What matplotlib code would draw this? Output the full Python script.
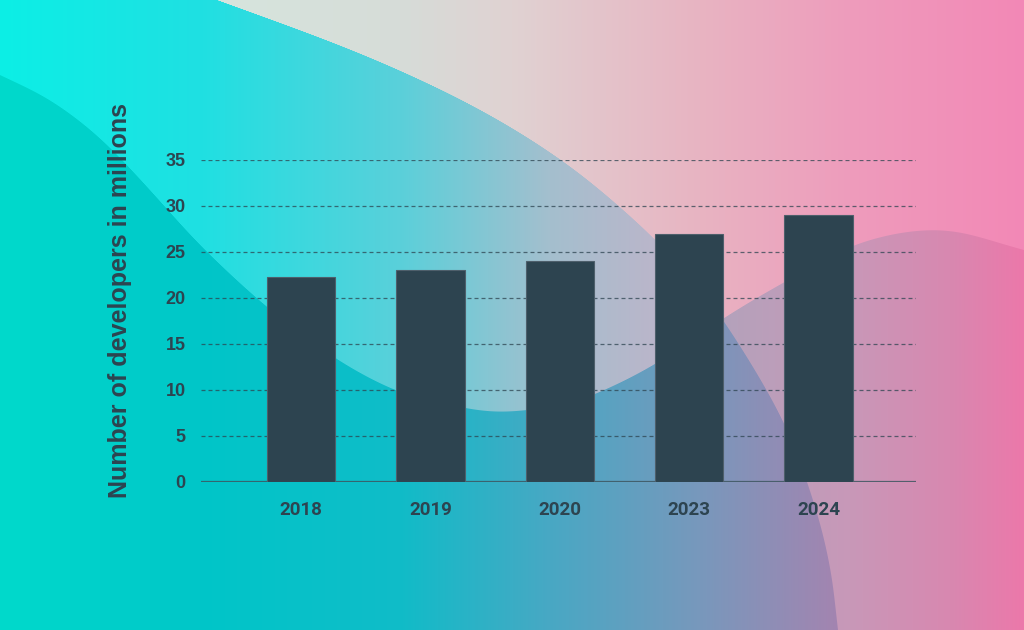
import numpy as np
import matplotlib
matplotlib.use('Agg')
import matplotlib.pyplot as plt
from matplotlib.colors import to_rgb

# ---- data ----
years = ['2018', '2019', '2020', '2023', '2024']
developers = [22.3, 23.0, 24.0, 27.0, 29.0]
y_ticks = [0, 5, 10, 15, 20, 25, 30, 35]
y_label = 'Number of developers in millions'

W, H = 1024, 630
fig = plt.figure(figsize=(W / 100, H / 100), dpi=100)

# ---- decorative background ----
xx = np.arange(W) + 0.5
yy = np.arange(H) + 0.5
X, Y = np.meshgrid(xx, yy)


def grad(stops):
    xs = [s[0] for s in stops]
    cols = np.array([to_rgb(s[1]) for s in stops])
    row = np.stack([np.interp(xx, xs, cols[:, k]) for k in range(3)], axis=-1)
    return np.broadcast_to(row[None, :, :], (H, W, 3))


def catmull(px, py, n=60):
    P = np.column_stack([px, py]).astype(float)
    P = np.vstack([2 * P[0] - P[1], P, 2 * P[-1] - P[-2]])
    t = np.linspace(0, 1, n)[:, None]
    out = []
    for i in range(1, len(P) - 2):
        p0, p1, p2, p3 = P[i - 1], P[i], P[i + 1], P[i + 2]
        c = 0.5 * ((2 * p1) + (-p0 + p2) * t + (2 * p0 - 5 * p1 + 4 * p2 - p3) * t ** 2
                   + (-p0 + 3 * p1 - 3 * p2 + p3) * t ** 3)
        out.append(c)
    c = np.vstack(out)
    return c[:, 0], c[:, 1]


def smooth(v, n):
    h = n // 2
    p = np.pad(v, h, mode='reflect', reflect_type='odd')
    return np.convolve(p, np.ones(n) / n, mode='valid')[:len(v)]


regA = grad([(0, '#0cefe6'), (200, '#1fe0e2'), (400, '#5ad0da'), (550, '#a4bfce'), (720, '#c8b0c8')])
regB = grad([(200, '#d6e6de'), (400, '#d6dcd8'), (512, '#e0d2d2'), (700, '#e8b4c2'),
             (850, '#ee9cbc'), (1024, '#f388b6')])
regC = grad([(0, '#00dacc'), (200, '#00c6c8'), (400, '#10bcc8'), (550, '#48a8c4'),
             (700, '#7898bc'), (840, '#a484b0')])
regD = grad([(700, '#b0a4bc'), (850, '#c898b8'), (950, '#d888b0'), (1024, '#ec78aa')])

# big arc boundary x(y)
circ_y = [0, 50, 100, 150, 200, 260, 323, 417, 500, 567, 630]
circ_x = [217, 352, 462, 547, 612, 675, 725, 781, 813, 830, 838]
ay, ax_ = catmull(circ_y, circ_x)
order = np.argsort(ay)
bx = smooth(np.interp(yy, ay[order], ax_[order]), 41)

# lower wave boundary y(x)
wave_x = [0, 50, 100, 150, 200, 267, 335, 397, 450, 500, 560, 600, 657, 724, 783, 860, 942, 1024]
wave_y = [75, 100, 138, 190, 245, 307, 358, 391, 405, 412, 405, 392, 363, 318, 283, 243, 230, 250]
cx, cy = catmull(wave_x, wave_y)
order = np.argsort(cx)
by = smooth(np.interp(xx, cx[order], cy[order]), 41)

a = np.clip(bx[:, None] - X + 0.5, 0, 1)[..., None]
b = np.clip(Y - by[None, :] + 0.5, 0, 1)[..., None]
top = regA * a + regB * (1 - a)
bot = regC * a + regD * (1 - a)
img = top * (1 - b) + bot * b

bg = fig.add_axes([0, 0, 1, 1], zorder=0)
bg.imshow(img, aspect='auto', extent=(0, W, H, 0), interpolation='bilinear')
bg.set_axis_off()

# ---- chart ----
dark = '#2d4450'
left, right, bottom, topy = 201, 916, 482, 160
ax = fig.add_axes([left / W, 1 - bottom / H, (right - left) / W, (bottom - topy) / H], zorder=2)
ax.patch.set_alpha(0)

x = np.arange(len(years))
ax.bar(x, developers, width=0.528, color=dark, edgecolor='#4e5f6b', linewidth=0.8, zorder=3)

ax.set_xlim(-0.772, 4.752)
ax.set_ylim(0, 35)
ax.set_yticks(y_ticks)
ax.set_yticklabels([str(t) for t in y_ticks])
for lab in ax.get_yticklabels():
    lab.set_fontfamily('Liberation Sans')
    lab.set_fontweight('bold')
    lab.set_fontsize(13)
    lab.set_color(dark)
ax.set_xticks(x)
ax.set_xticklabels(years)
for lab in ax.get_xticklabels():
    lab.set_fontfamily('Roboto')
    lab.set_fontweight('bold')
    lab.set_fontsize(13.5)
    lab.set_color(dark)
ax.tick_params(axis='both', length=0)
ax.tick_params(axis='y', pad=11)
ax.tick_params(axis='x', pad=14)

for t in y_ticks[1:]:
    ax.axhline(t, color=dark, alpha=0.75, linewidth=0.9, dashes=(3.2, 2.4), zorder=1)
ax.axhline(0, color='#3d5660', alpha=0.85, linewidth=1.6, zorder=2)

for s in ax.spines.values():
    s.set_visible(False)

fig.text(120 / W, 1 - 300 / H, y_label, rotation=90, ha='center', va='center',
         fontfamily='Liberation Sans', fontweight='bold', fontsize=18, color=dark, zorder=3)

fig.savefig('out.png', dpi=100)
